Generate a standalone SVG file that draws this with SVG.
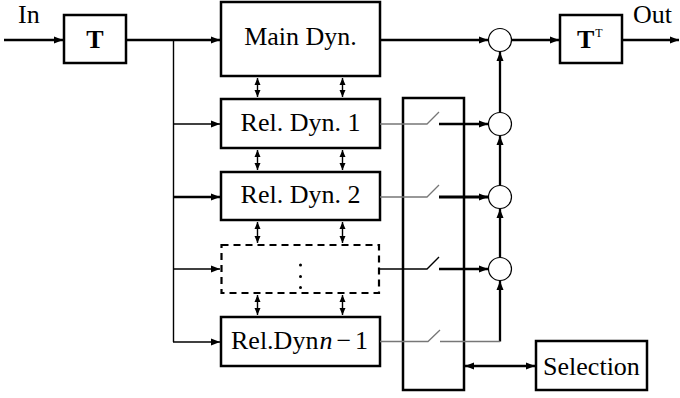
<svg xmlns="http://www.w3.org/2000/svg" width="680" height="398" viewBox="0 0 680 398">
<style>
.box{fill:#fff;stroke:#000;stroke-width:2.5}
.dash{fill:#fff;stroke:#000;stroke-width:2.2;stroke-dasharray:7,5}
.ln{fill:none;stroke:#000;stroke-width:2.3}
.thin{fill:none;stroke:#000;stroke-width:1.4}
.gray{fill:none;stroke:#777;stroke-width:1.3}
.circ{fill:#fff;stroke:#000;stroke-width:1.2}
text{font-family:"Liberation Serif","Times New Roman",serif;font-size:26px;fill:#000}
.c{text-anchor:middle}
</style>
<defs>
<marker id="ah" markerUnits="userSpaceOnUse" markerWidth="10" markerHeight="8" refX="9" refY="3.5" orient="auto-start-reverse" viewBox="0 0 10 7">
<path d="M0,0 L9,3.5 L0,7 z" fill="#000"/>
</marker>
<marker id="as" markerUnits="userSpaceOnUse" markerWidth="8" markerHeight="7" refX="7" refY="3" orient="auto-start-reverse" viewBox="0 0 8 6">
<path d="M0,0 L7,3 L0,6 z" fill="#000"/>
</marker>
</defs>

<g id="connectors">
<line class="ln" x1="4" y1="40" x2="63" y2="40" marker-end="url(#ah)"/>
<line class="ln" x1="126" y1="40" x2="220" y2="40" marker-end="url(#ah)"/>
<line class="thin" x1="173.5" y1="40" x2="173.5" y2="342"/>
<line class="thin" x1="173" y1="124" x2="220" y2="124" marker-end="url(#ah)"/>
<line class="ln" x1="173" y1="197" x2="220" y2="197" marker-end="url(#ah)"/>
<line class="thin" x1="173" y1="269" x2="220" y2="269" marker-end="url(#ah)"/>
<line class="thin" x1="173" y1="342" x2="220" y2="342" marker-end="url(#ah)"/>
<line class="ln" x1="380" y1="40" x2="488" y2="40" marker-end="url(#ah)"/>
<line class="ln" x1="512" y1="40" x2="559" y2="40" marker-end="url(#ah)"/>
<line class="ln" x1="622" y1="40" x2="679" y2="40" marker-end="url(#ah)"/>
<g class="thin">
<line x1="257.5" y1="78" x2="257.5" y2="97" marker-start="url(#as)" marker-end="url(#as)"/>
<line x1="342.5" y1="78" x2="342.5" y2="97" marker-start="url(#as)" marker-end="url(#as)"/>
<line x1="257.5" y1="150" x2="257.5" y2="170" marker-start="url(#as)" marker-end="url(#as)"/>
<line x1="342.5" y1="150" x2="342.5" y2="170" marker-start="url(#as)" marker-end="url(#as)"/>
<line x1="257.5" y1="222" x2="257.5" y2="243" marker-start="url(#as)" marker-end="url(#as)"/>
<line x1="342.5" y1="222" x2="342.5" y2="243" marker-start="url(#as)" marker-end="url(#as)"/>
<line x1="257.5" y1="295" x2="257.5" y2="315" marker-start="url(#as)" marker-end="url(#as)"/>
<line x1="342.5" y1="295" x2="342.5" y2="315" marker-start="url(#as)" marker-end="url(#as)"/>
</g>
<line class="ln" x1="465" y1="366" x2="535" y2="366" marker-start="url(#ah)" marker-end="url(#ah)"/>
<line class="ln" x1="500" y1="112" x2="500" y2="52" marker-end="url(#ah)"/>
<line class="ln" x1="500" y1="185" x2="500" y2="136" marker-end="url(#ah)"/>
<line class="ln" x1="500" y1="257" x2="500" y2="209" marker-end="url(#ah)"/>
<line class="ln" x1="500" y1="341.5" x2="500" y2="281" marker-end="url(#ah)"/>
</g>

<g id="T"><rect class="box" x="64" y="15" width="62" height="48"/><text class="c" x="95" y="48" font-weight="bold">T</text></g>
<text x="18" y="23">In</text>
<g id="main"><rect class="box" x="221" y="2" width="159" height="74"/><text class="c" x="300.5" y="45">Main Dyn.</text></g>
<g id="rel1"><rect class="box" x="221" y="99" width="159" height="49"/><text class="c" x="300.5" y="131">Rel. Dyn. 1</text></g>
<g id="rel2"><rect class="box" x="221" y="172" width="159" height="48"/><text class="c" x="300.5" y="203">Rel. Dyn. 2</text></g>
<g id="reldots"><rect class="dash" x="221.5" y="245" width="157.5" height="48"/>
<circle cx="300.5" cy="265" r="1.5"/><circle cx="300.5" cy="276.5" r="1.5"/><circle cx="300.5" cy="287.5" r="1.5"/></g>
<g id="reln"><rect class="box" x="221" y="317" width="159" height="49"/><text x="231" y="349">Rel.Dyn<tspan font-style="italic" dx="1">n</tspan><tspan dx="4">−</tspan><tspan dx="4">1</tspan></text></g>

<g id="switches">
<rect class="box" x="403" y="98" width="61" height="292" fill="none" style="fill:none"/>
<path class="gray" d="M380,124 H427 L439,112"/>
<path class="gray" d="M380,197 H427 L439,185"/>
<path class="thin" d="M380,269 H427 L439,257"/>
<path class="gray" d="M380,341.5 H428 L440,330"/>
<path class="gray" d="M440,341.5 H500"/>
<line class="ln" x1="439" y1="124" x2="488" y2="124" marker-end="url(#ah)"/>
<line class="ln" x1="439" y1="197" x2="488" y2="197" marker-end="url(#ah)" style="stroke-width:3"/>
<line class="ln" x1="439" y1="269" x2="488" y2="269" marker-end="url(#ah)"/>
</g>

<g id="sums">
<circle class="circ" cx="500" cy="40" r="11.5"/>
<circle class="circ" cx="500" cy="124" r="11.5"/>
<circle class="circ" cx="500" cy="197" r="11.5"/>
<circle class="circ" cx="500" cy="269" r="11.5"/>
</g>

<g id="TT"><rect class="box" x="560" y="15" width="62" height="48"/><text x="577" y="48" font-weight="bold">T<tspan font-size="12" font-weight="normal" dy="-11" dx="1">T</tspan></text></g>
<text x="633" y="23">Out</text>
<g id="selection"><rect class="box" x="536" y="341" width="111" height="49"/><text class="c" x="591.5" y="375">Selection</text></g>
</svg>
